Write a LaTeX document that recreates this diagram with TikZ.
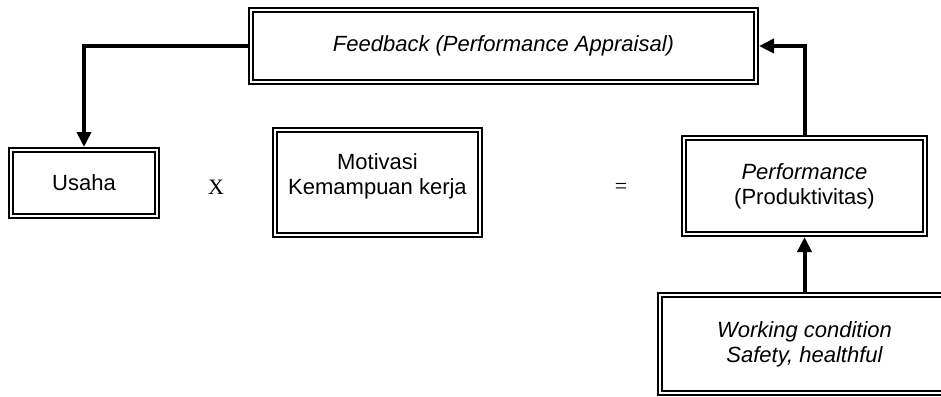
\documentclass[tikz,border=0pt]{standalone}
\usepackage{fontspec}
\setmainfont{Liberation Serif}
\setsansfont{Liberation Sans}
\usepackage{tikz}
\usetikzlibrary{arrows.meta, positioning}

\begin{document}
\begin{tikzpicture}[
    x=0.5pt, y=-0.5pt,
    node distance=1cm,
    block/.style={rectangle, draw, double, double distance=1.2pt, line width=1pt, outer sep=1.6pt, fill=white, align=center, font=\sffamily\fontsize{11}{12.5}\selectfont, text=black},
    op/.style={font=\rmfamily\fontsize{11}{13}\selectfont, text=black},
    arrow/.style={line width=2pt, -{Triangle[length=7.5pt, width=7pt]}}
]
\useasboundingbox (0,0) rectangle (941,396);

\node[block, minimum width=252.3pt, minimum height=35.8pt] (feedback) at (503.5,46) {\itshape Feedback (Performance Appraisal)};
\node[block, minimum width=72.8pt, minimum height=32.8pt] (usaha) at (84,183) {Usaha};
\node[op] (kali) at (216,187) {X};
\node[block, minimum width=102.3pt, minimum height=52.3pt, text depth=8pt] (motivasi) at (377.5,182.5) {Motivasi\\Kemampuan kerja};
\node[op] (sama) at (621,188) {=};
\node[block, minimum width=120.3pt, minimum height=47.8pt] (perform) at (804.5,186) {\textit{Performance}\\(Produktivitas)};
\node[block, minimum width=144.8pt, minimum height=48.8pt, below=27.5pt of perform] (kondisi) {\itshape Working condition\\\itshape Safety, healthful};

\draw[arrow] (feedback.west) -| (usaha.north);
\draw[arrow] (perform.north) |- (feedback.east);
\draw[arrow] (kondisi.north) -- (perform.south);
\end{tikzpicture}
\end{document}
